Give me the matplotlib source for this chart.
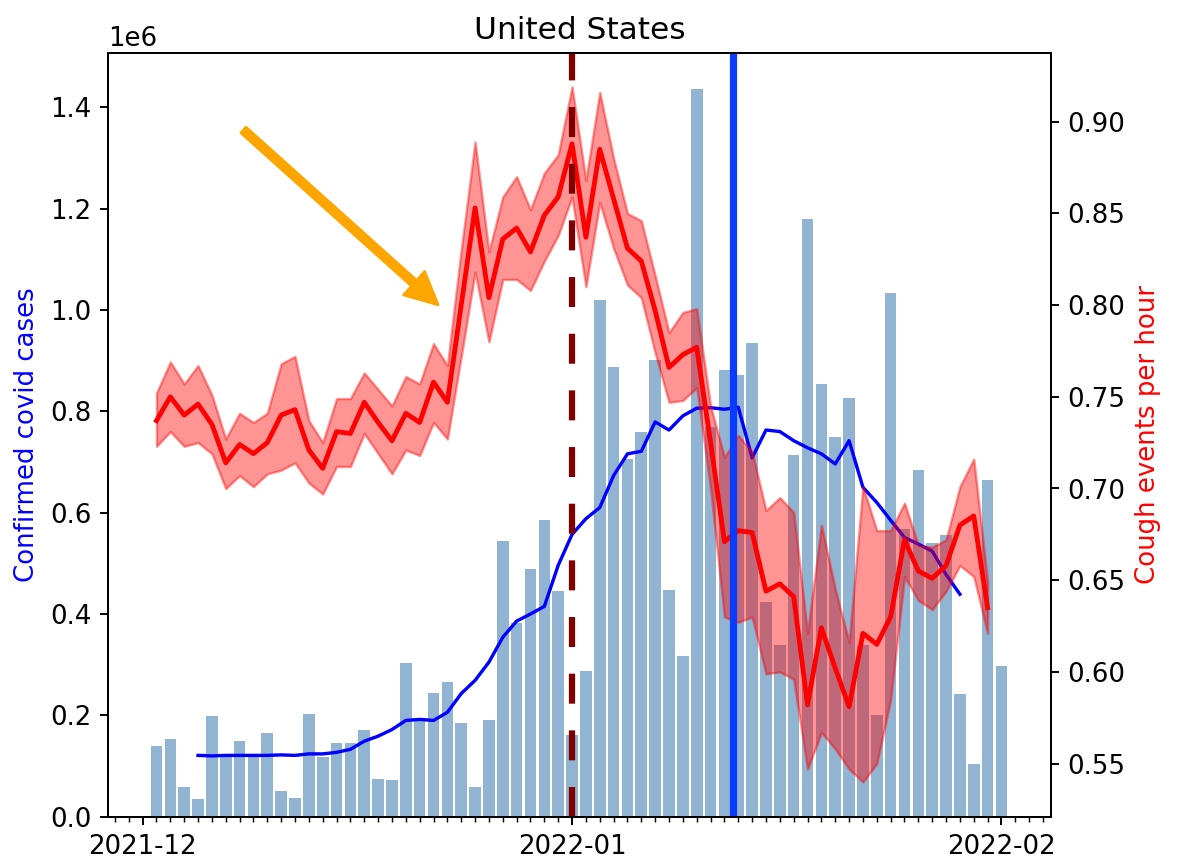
import numpy as np
import pandas as pd
import matplotlib
matplotlib.use("Agg")
import matplotlib.pyplot as plt
import matplotlib.dates as mdates

plt.rcParams["font.size"] = 10.8

# daily confirmed cases (millions), 2021-12-02 .. 2022-02-01
case_dates = pd.date_range("2021-12-02", "2022-02-01", freq="D")
cases_m = [0.139, 0.154, 0.058, 0.035, 0.198, 0.118, 0.149, 0.118, 0.165, 0.051,
           0.036, 0.203, 0.118, 0.145, 0.146, 0.172, 0.075, 0.073, 0.304, 0.190,
           0.245, 0.266, 0.185, 0.059, 0.191, 0.544, 0.382, 0.489, 0.585, 0.446,
           0.162, 0.287, 1.019, 0.887, 0.706, 0.760, 0.902, 0.448, 0.317, 1.436,
           0.769, 0.882, 0.872, 0.934, 0.423, 0.338, 0.714, 1.179, 0.853, 0.750,
           0.826, 0.338, 0.201, 1.034, 0.568, 0.685, 0.540, 0.556, 0.243, 0.105,
           0.664, 0.298]

# 7-day average (millions), 2021-12-05 .. 2022-01-29
avg_dates = pd.date_range("2021-12-05", "2022-01-29", freq="D")
avg_m = [0.121, 0.120, 0.121, 0.121, 0.121, 0.121, 0.122, 0.121, 0.124, 0.124,
         0.127, 0.133, 0.149, 0.159, 0.172, 0.190, 0.192, 0.190, 0.206, 0.243,
         0.269, 0.305, 0.354, 0.386, 0.400, 0.415, 0.496,
         0.557, 0.588, 0.610, 0.673, 0.716, 0.721, 0.779, 0.763, 0.791, 0.806,
         0.807, 0.804, 0.808, 0.708, 0.763, 0.760, 0.742, 0.728, 0.716, 0.696,
         0.742, 0.650, 0.620, 0.585, 0.551, 0.538, 0.524, 0.478, 0.439]

# cough events per hour, 2021-12-02 .. 2022-01-31
cough_dates = pd.date_range("2021-12-02", "2022-01-31", freq="D")
cough = [0.737, 0.750, 0.740, 0.746, 0.735, 0.714, 0.724, 0.719, 0.725, 0.740,
         0.743, 0.721, 0.711, 0.731, 0.730, 0.747, 0.736, 0.726, 0.741, 0.736,
         0.758, 0.747, 0.800, 0.853, 0.804, 0.836, 0.842, 0.829, 0.849, 0.859,
         0.888, 0.837, 0.885, 0.858, 0.831, 0.824, 0.797, 0.766, 0.773, 0.777,
         0.725, 0.671, 0.677, 0.676, 0.644, 0.648, 0.641, 0.582, 0.624, 0.602,
         0.581, 0.621, 0.615, 0.630, 0.672, 0.655, 0.651, 0.658, 0.680, 0.685,
         0.635]
cough_hi = [0.752, 0.769, 0.757, 0.767, 0.751, 0.727, 0.741, 0.736, 0.741, 0.768,
            0.772, 0.737, 0.725, 0.749, 0.749, 0.763, 0.754, 0.745, 0.761, 0.757,
            0.779, 0.767, 0.830, 0.889, 0.829, 0.859, 0.870, 0.852, 0.872, 0.882,
            0.919, 0.868, 0.916, 0.880, 0.850, 0.846, 0.816, 0.785, 0.796, 0.798,
            0.745, 0.717, 0.729, 0.720, 0.688, 0.695, 0.687, 0.621, 0.680, 0.645,
            0.616, 0.701, 0.677, 0.677, 0.692, 0.669, 0.668, 0.672, 0.701, 0.716,
            0.649]
cough_lo = [0.723, 0.731, 0.723, 0.725, 0.719, 0.700, 0.707, 0.701, 0.708, 0.710,
            0.714, 0.703, 0.697, 0.712, 0.712, 0.730, 0.719, 0.708, 0.721, 0.718,
            0.736, 0.727, 0.772, 0.818, 0.780, 0.814, 0.814, 0.808, 0.824, 0.838,
            0.859, 0.810, 0.856, 0.831, 0.811, 0.804, 0.774, 0.747, 0.748, 0.755,
            0.700, 0.630, 0.627, 0.630, 0.599, 0.600, 0.596, 0.547, 0.567, 0.558,
            0.547, 0.540, 0.550, 0.585, 0.652, 0.639, 0.634, 0.644, 0.658, 0.652,
            0.621]

event_dash = pd.Timestamp("2022-01-01")
event_solid = pd.Timestamp("2022-01-12 15:00")

fig = plt.figure(figsize=(6.81, 4.96), dpi=173)
ax = fig.add_axes([0.0919, 0.0481, 0.800, 0.8901])

ax.bar(case_dates, np.array(cases_m) * 1e6, width=0.84, color="steelblue", alpha=0.6)
ax.plot(avg_dates, np.array(avg_m) * 1e6, color="blue", lw=1.4)
ax.set_ylim(0, 1.507e6)
ax.set_ylabel("Confirmed covid cases", color="blue")

ax2 = ax.twinx()
ax2.fill_between(cough_dates, cough_lo, cough_hi, color="red", alpha=0.42)
ax2.plot(cough_dates, cough, color="red", lw=2)
ax2.axvline(event_dash, color="maroon", lw=2.6, dashes=(4.8, 4.27))
ax2.axvline(event_solid, color="#0a3cff", lw=3)
ax2.set_ylim(0.521, 0.9375)
ax2.set_ylabel("Cough events per hour", color="red")

ax.set_xlim(pd.Timestamp("2021-12-01") - pd.Timedelta(days=2.48),
            pd.Timestamp("2021-12-01") + pd.Timedelta(days=65.56))
ax.xaxis.set_major_locator(mdates.MonthLocator())
ax.xaxis.set_major_formatter(mdates.DateFormatter("%Y-%m"))
ax.xaxis.set_minor_locator(mdates.DayLocator())

ax.set_title("United States", fontsize=13)

ax.annotate("", xy=(0.3502, 0.670), xytext=(0.1433, 0.8992), xycoords="axes fraction",
            arrowprops=dict(color="orange", width=3.3, headwidth=13.3, headlength=13.6, shrink=0))

fig.savefig("out.png", dpi=173)
